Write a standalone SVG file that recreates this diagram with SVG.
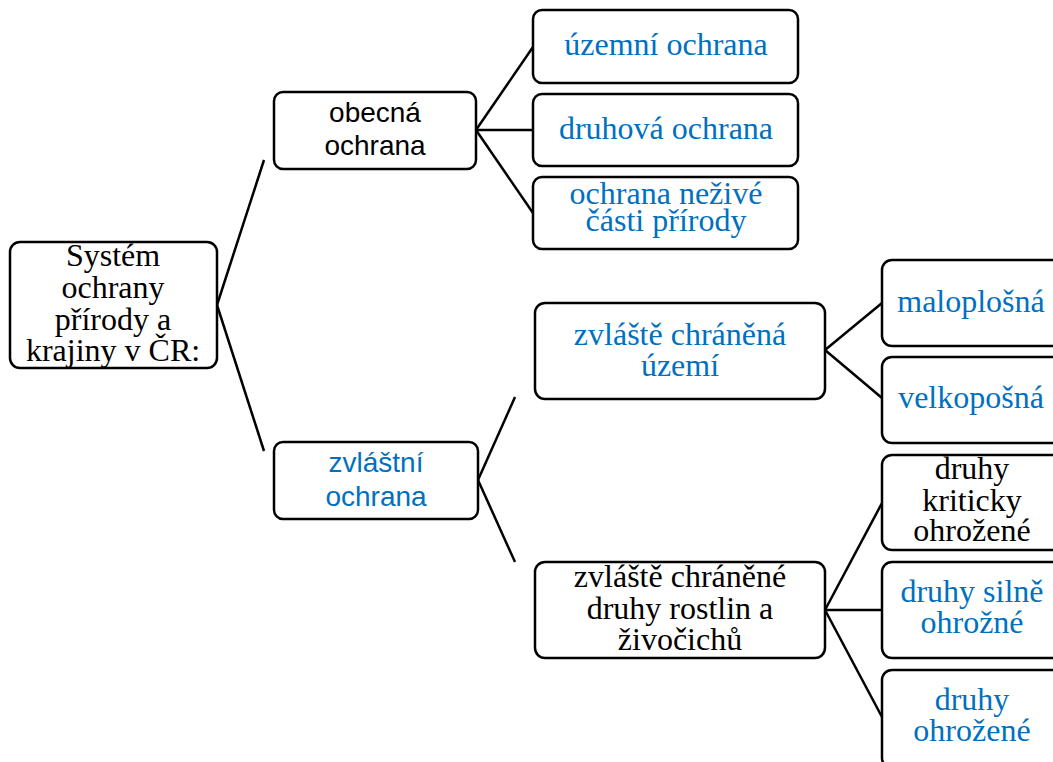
<svg xmlns="http://www.w3.org/2000/svg" width="1053" height="762" viewBox="0 0 1053 762">
<style>
.box{fill:#fff;stroke:#000;stroke-width:2.5}
.con line{stroke:#000;stroke-width:2.5}
.s{font-family:"Liberation Serif","Times New Roman",serif;font-size:32px;text-anchor:middle}
.a{font-family:"Liberation Sans",Arial,sans-serif;font-size:28px;text-anchor:middle}
.k{fill:#000}
.b{fill:#0070C0}
</style>
<rect width="1053" height="762" fill="#fff"/>
<g id="connectors" class="con">
<line x1="217" y1="305" x2="264" y2="160"/>
<line x1="217" y1="305" x2="264" y2="451"/>
<line x1="476" y1="130" x2="533" y2="47"/>
<line x1="476" y1="130" x2="533" y2="130"/>
<line x1="476" y1="130" x2="533" y2="213"/>
<line x1="478" y1="480" x2="515" y2="397"/>
<line x1="478" y1="480" x2="515" y2="562"/>
<line x1="825" y1="350" x2="882" y2="303"/>
<line x1="825" y1="350" x2="882" y2="398"/>
<line x1="825" y1="610" x2="882" y2="503"/>
<line x1="825" y1="610" x2="882" y2="610"/>
<line x1="825" y1="610" x2="882" y2="717"/>
</g>
<g id="root">
<rect class="box" x="10" y="242" width="207" height="126" rx="10"/>
<text class="s k" x="113" y="266">Systém</text>
<text class="s k" x="113" y="298">ochrany</text>
<text class="s k" x="113" y="330">přírody a</text>
<text class="s k" x="113" y="361">krajiny v ČR:</text>
</g>
<g id="obecna">
<rect class="box" x="274" y="92" width="202" height="77" rx="9"/>
<text class="a k" x="375" y="122">obecná</text>
<text class="a k" x="375" y="155">ochrana</text>
</g>
<g id="uzemni">
<rect class="box" x="533" y="10" width="265" height="73" rx="9"/>
<text class="s b" x="666" y="55">územní ochrana</text>
</g>
<g id="druhova">
<rect class="box" x="533" y="94" width="265" height="72" rx="9"/>
<text class="s b" x="666" y="139">druhová ochrana</text>
</g>
<g id="nezive">
<rect class="box" x="533" y="177" width="265" height="72" rx="9"/>
<text class="s b" x="666" y="204">ochrana neživé</text>
<text class="s b" x="666" y="231">části přírody</text>
</g>
<g id="zvlastni">
<rect class="box" x="274" y="442" width="204" height="77" rx="9"/>
<text class="a b" x="376" y="472">zvláštní</text>
<text class="a b" x="376" y="506">ochrana</text>
</g>
<g id="zchu">
<rect class="box" x="535" y="303" width="290" height="96" rx="10"/>
<text class="s b" x="680" y="345">zvláště chráněná</text>
<text class="s b" x="680" y="376">území</text>
</g>
<g id="zchd">
<rect class="box" x="535" y="562" width="290" height="96" rx="10"/>
<text class="s k" x="680" y="587">zvláště chráněné</text>
<text class="s k" x="680" y="619">druhy rostlin a</text>
<text class="s k" x="680" y="650">živočichů</text>
</g>
<g id="maloplosna">
<rect class="box" x="882" y="260" width="180" height="86" rx="10"/>
<text class="s b" x="971" y="312">maloplošná</text>
</g>
<g id="velkoposna">
<rect class="box" x="882" y="357" width="180" height="86" rx="10"/>
<text class="s b" x="971" y="408">velkopošná</text>
</g>
<g id="kriticky">
<rect class="box" x="882" y="455" width="180" height="95" rx="10"/>
<text class="s k" x="972" y="479">druhy</text>
<text class="s k" x="972" y="511">kriticky</text>
<text class="s k" x="972" y="541">ohrožené</text>
</g>
<g id="silne">
<rect class="box" x="882" y="562" width="180" height="96" rx="10"/>
<text class="s b" x="972" y="602">druhy silně</text>
<text class="s b" x="972" y="633">ohrožné</text>
</g>
<g id="ohrozene">
<rect class="box" x="882" y="670" width="180" height="98" rx="10"/>
<text class="s b" x="972" y="710">druhy</text>
<text class="s b" x="972" y="741">ohrožené</text>
</g>
</svg>
